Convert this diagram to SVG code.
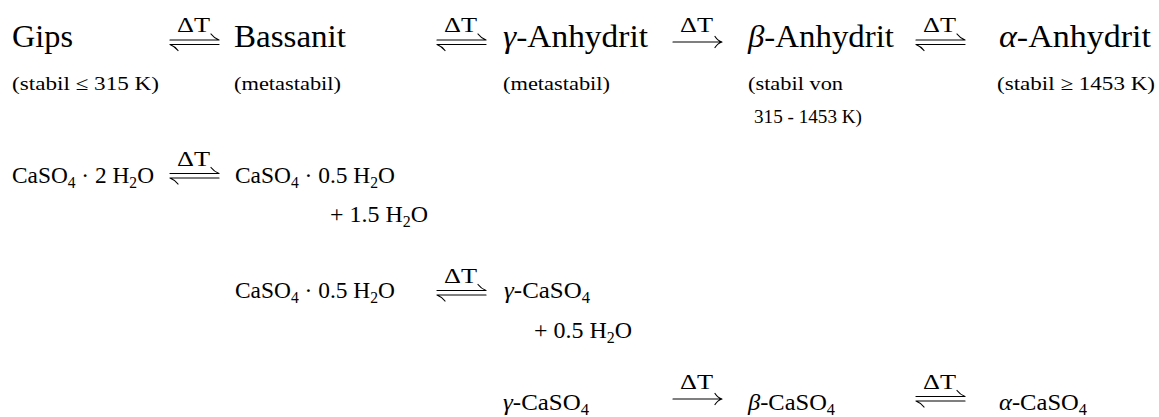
<svg xmlns="http://www.w3.org/2000/svg" xmlns:xlink="http://www.w3.org/1999/xlink" width="1159" height="417" viewBox="0 0 1159 417">
<style>
text{font-family:"Liberation Serif","Times New Roman",serif;fill:#000}
.big{font-size:31px}
.sub{font-size:19px}
.chem{font-size:24px}
.dt{font-size:22px}
.s{font-size:16px}
.g{font-style:italic}
.arr{fill:none;stroke:#000;stroke-width:1.2;stroke-linecap:round}
</style>
<defs>
<g id="eq" class="arr">
<path d="M0,0 H49 M49,0 Q44,-2 41,-6"/>
<path d="M0,4.5 H49 M0,4.5 Q5,6.5 8,10.5"/>
</g>
<g id="ra" class="arr">
<path d="M0,0 H49 M42,-5.5 Q45,-1 49,0 Q45,1 42,5.5"/>
</g>
</defs>
<rect width="1159" height="417" fill="#fff"/>

<g id="gips">
<text class="big" x="12" y="47" textLength="61" lengthAdjust="spacingAndGlyphs">Gips</text>
<text class="sub" x="12" y="90" textLength="147" lengthAdjust="spacingAndGlyphs">(stabil ≤  315 K)</text>
</g>
<g id="bassanit">
<text class="big" x="234" y="47" textLength="112" lengthAdjust="spacingAndGlyphs">Bassanit</text>
<text class="sub" x="234" y="90" textLength="107" lengthAdjust="spacingAndGlyphs">(metastabil)</text>
</g>
<g id="gamma-anhydrit">
<text class="big" x="503" y="47" textLength="145" lengthAdjust="spacingAndGlyphs"><tspan class="g">γ</tspan>-Anhydrit</text>
<text class="sub" x="503" y="90" textLength="107" lengthAdjust="spacingAndGlyphs">(metastabil)</text>
</g>
<g id="beta-anhydrit">
<text class="big" x="748" y="47" textLength="146" lengthAdjust="spacingAndGlyphs"><tspan class="g">β</tspan>-Anhydrit</text>
<text class="sub" x="748" y="90" textLength="95" lengthAdjust="spacingAndGlyphs">(stabil von</text>
<text class="sub" x="754" y="123" textLength="108" lengthAdjust="spacingAndGlyphs">315 - 1453 K)</text>
</g>
<g id="alpha-anhydrit">
<text class="big" x="999" y="47" textLength="152" lengthAdjust="spacingAndGlyphs"><tspan class="g">α</tspan>-Anhydrit</text>
<text class="sub" x="997" y="90" textLength="158" lengthAdjust="spacingAndGlyphs">(stabil ≥  1453 K)</text>
</g>

<g id="r2-gips">
<text class="chem" x="12" y="183" textLength="142" lengthAdjust="spacingAndGlyphs">CaSO<tspan class="s" dy="5">4</tspan><tspan dy="-5"> · 2 H</tspan><tspan class="s" dy="5">2</tspan><tspan dy="-5">O</tspan></text>
</g>
<g id="r2-bassanit">
<text class="chem" x="235" y="183" textLength="160" lengthAdjust="spacingAndGlyphs">CaSO<tspan class="s" dy="5">4</tspan><tspan dy="-5"> · 0.5 H</tspan><tspan class="s" dy="5">2</tspan><tspan dy="-5">O</tspan></text>
<text class="chem" x="330" y="222" textLength="98" lengthAdjust="spacingAndGlyphs">+ 1.5 H<tspan class="s" dy="5">2</tspan><tspan dy="-5">O</tspan></text>
</g>
<g id="r3-bassanit">
<text class="chem" x="235" y="298" textLength="160" lengthAdjust="spacingAndGlyphs">CaSO<tspan class="s" dy="5">4</tspan><tspan dy="-5"> · 0.5 H</tspan><tspan class="s" dy="5">2</tspan><tspan dy="-5">O</tspan></text>
</g>
<g id="r3-gamma">
<text class="chem" x="504" y="298" textLength="86" lengthAdjust="spacingAndGlyphs"><tspan class="g">γ</tspan>-CaSO<tspan class="s" dy="5">4</tspan></text>
<text class="chem" x="534" y="338" textLength="98" lengthAdjust="spacingAndGlyphs">+ 0.5 H<tspan class="s" dy="5">2</tspan><tspan dy="-5">O</tspan></text>
</g>
<g id="r4-gamma">
<text class="chem" x="503" y="410" textLength="86" lengthAdjust="spacingAndGlyphs"><tspan class="g">γ</tspan>-CaSO<tspan class="s" dy="5">4</tspan></text>
</g>
<g id="r4-beta">
<text class="chem" x="748" y="410" textLength="87" lengthAdjust="spacingAndGlyphs"><tspan class="g">β</tspan>-CaSO<tspan class="s" dy="5">4</tspan></text>
</g>
<g id="r4-alpha">
<text class="chem" x="999" y="410" textLength="88" lengthAdjust="spacingAndGlyphs"><tspan class="g">α</tspan>-CaSO<tspan class="s" dy="5">4</tspan></text>
</g>

<g id="connectors">
<use xlink:href="#eq" x="170" y="40"/>
<text class="dt" x="177" y="32" textLength="33" lengthAdjust="spacingAndGlyphs">ΔT</text>
<use xlink:href="#eq" x="437" y="40"/>
<text class="dt" x="444" y="32" textLength="33" lengthAdjust="spacingAndGlyphs">ΔT</text>
<use xlink:href="#ra" x="673" y="42"/>
<text class="dt" x="680" y="32" textLength="33" lengthAdjust="spacingAndGlyphs">ΔT</text>
<use xlink:href="#eq" x="916" y="40"/>
<text class="dt" x="923" y="32" textLength="33" lengthAdjust="spacingAndGlyphs">ΔT</text>

<use xlink:href="#eq" x="170" y="173.5"/>
<text class="dt" x="177" y="166" textLength="33" lengthAdjust="spacingAndGlyphs">ΔT</text>

<use xlink:href="#eq" x="437" y="290.5"/>
<text class="dt" x="444" y="283" textLength="33" lengthAdjust="spacingAndGlyphs">ΔT</text>

<use xlink:href="#ra" x="673" y="399"/>
<text class="dt" x="680" y="389" textLength="33" lengthAdjust="spacingAndGlyphs">ΔT</text>
<use xlink:href="#eq" x="916" y="396.5"/>
<text class="dt" x="923" y="389" textLength="33" lengthAdjust="spacingAndGlyphs">ΔT</text>
</g>
</svg>
